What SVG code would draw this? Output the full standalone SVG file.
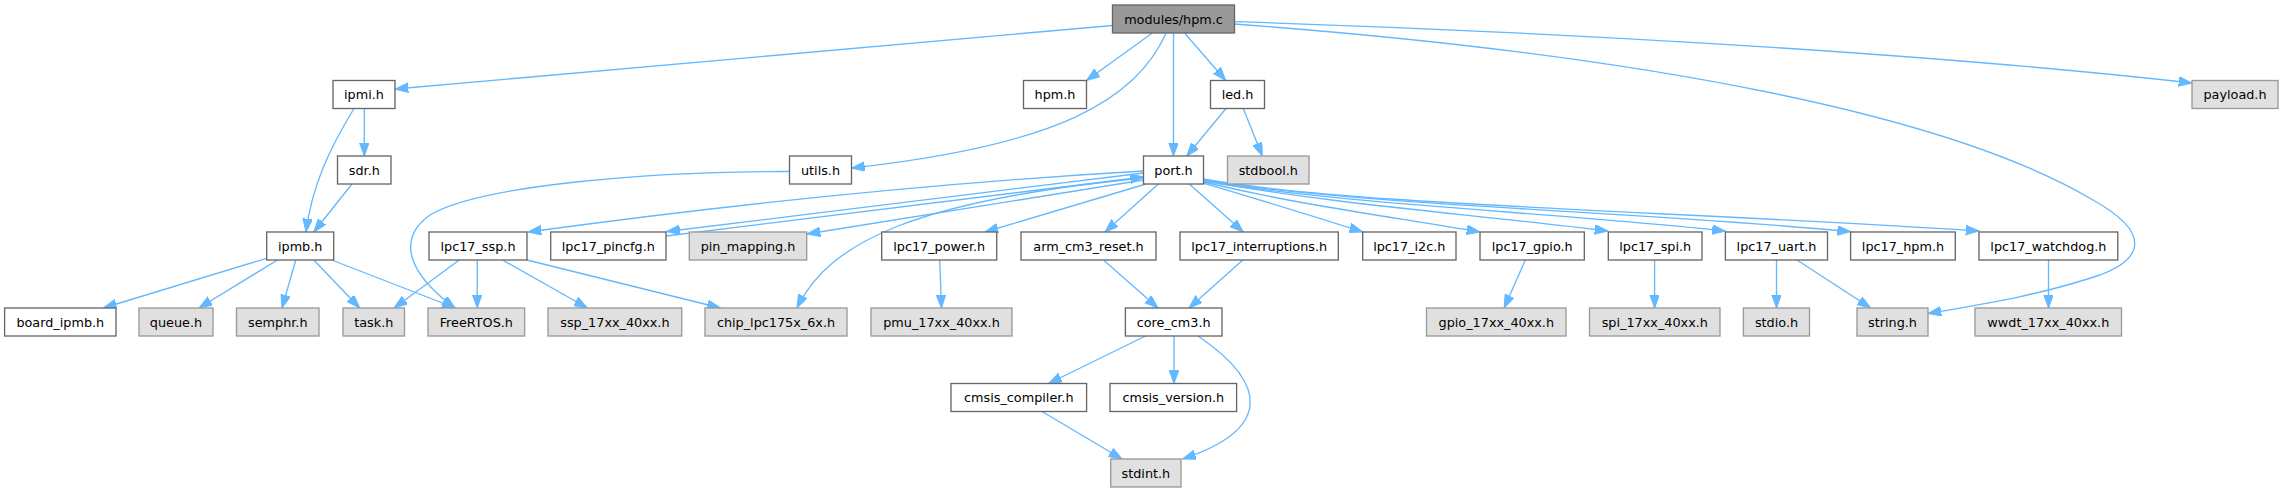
<svg xmlns="http://www.w3.org/2000/svg" width="2283" height="492" viewBox="0 0 2283 492">
<defs>
<marker id="arr" markerUnits="userSpaceOnUse" markerWidth="15" markerHeight="11" refX="13.3" refY="4.8" orient="auto">
<path d="M0,0 L13.3,4.8 L0,9.6 z" fill="#63b8ff" stroke="#63b8ff" stroke-width="1"/>
</marker>
<style>
.n rect{fill:#ffffff;stroke:#666666;stroke-width:1.33}
.g rect{fill:#e0e0e0;stroke:#999999;stroke-width:1.33}
.r rect{fill:#999999;stroke:#666666;stroke-width:1.33}
text{font-family:"DejaVu Sans",sans-serif;font-size:12.8px;fill:#000000;text-anchor:middle}
#edges path{fill:none;stroke:#63b8ff;stroke-width:1.33;marker-end:url(#arr)}
</style>
</defs>
<rect width="2283" height="492" fill="#ffffff"/>
<g id="edges">
<path d="M1112.5,25.5 L395,89"/>
<path d="M1151.7,33.5 L1086.5,80.5"/>
<path d="M1166,33.5 C1135,100 1060,145 851.5,168"/>
<path d="M1173.5,33.5 L1173.5,156"/>
<path d="M1185,33.5 L1225.7,80.5"/>
<path d="M1234.5,21.7 C1500,30 1900,50 2192,83"/>
<path d="M1234.5,24 C1650,55 1950,115 2093,200 C2150,232 2145,258 2100,275 C2040,295 1990,303 1928,313.5"/>
<path d="M364.3,108.5 L364.3,156"/>
<path d="M354,108.5 C330,148 312,185 306,232"/>
<path d="M352,184 L313.8,232"/>
<path d="M266.7,258.3 L103.3,308"/>
<path d="M277.5,260 L199,308"/>
<path d="M295.8,260 L282,308"/>
<path d="M313.8,260 L359.7,308"/>
<path d="M333,260.5 L455.4,308"/>
<path d="M789.5,171.5 C650,171.5 480,185 430,215 C395,240 410,275 455,308"/>
<path d="M1226,108.5 L1186.7,156"/>
<path d="M1243.3,108.5 L1262.3,156"/>
<path d="M1143.5,171 Q850,188 528,232"/>
<path d="M1143.5,173 L666.7,231.5"/>
<path d="M666,236 L1143.5,177"/>
<path d="M1143.5,180 L807,234"/>
<path d="M1143.5,178 C920,200 830,240 797,308"/>
<path d="M1146,184 L985,232"/>
<path d="M1158.3,184 L1105,232"/>
<path d="M1189.3,184 L1243.3,232"/>
<path d="M1203.5,183 C1260,200 1310,215 1362.7,232"/>
<path d="M1203.5,182 C1300,205 1380,215 1480,232"/>
<path d="M1203.5,181 C1350,206 1450,212 1608,231"/>
<path d="M1203.5,181 C1350,205 1550,212 1725.4,231"/>
<path d="M1203.5,180 C1350,205 1650,212 1850.6,231.7"/>
<path d="M1203.5,179 C1350,205 1650,210 1979,231"/>
<path d="M459.2,260 L394.2,308"/>
<path d="M477.2,260 L477.2,308"/>
<path d="M502.5,260 L587.4,308"/>
<path d="M527,260 L720.5,308"/>
<path d="M939.7,260 L941.5,308"/>
<path d="M1103.5,260 L1158,308"/>
<path d="M1242.8,260 L1189,308"/>
<path d="M1145.5,336 L1048.6,383.5"/>
<path d="M1174,336 L1174,383.5"/>
<path d="M1198,336 C1270,385 1270,430 1182.5,459"/>
<path d="M1042,411.5 L1122,459"/>
<path d="M1525.3,260 L1504.2,308"/>
<path d="M1654.6,260 L1654.6,308"/>
<path d="M1776.5,260 L1776.5,308"/>
<path d="M1797,260 L1870.7,308"/>
<path d="M2048.5,260 L2048.5,308"/>
</g>
<g id="n-root" class="r"><rect x="1112.5" y="5" width="122" height="28"/><text x="1173.5" y="23.5">modules/hpm.c</text></g>
<g id="n-ipmi" class="n"><rect x="333" y="80.5" width="62" height="28"/><text x="364" y="99">ipmi.h</text></g>
<g id="n-hpm" class="n"><rect x="1023.5" y="80.5" width="63" height="28"/><text x="1055" y="99">hpm.h</text></g>
<g id="n-led" class="n"><rect x="1210.5" y="80.5" width="54" height="28"/><text x="1237.5" y="99">led.h</text></g>
<g id="n-payload" class="g"><rect x="2192" y="80.5" width="86" height="28"/><text x="2235" y="99">payload.h</text></g>
<g id="n-sdr" class="n"><rect x="337.5" y="156" width="53.5" height="28"/><text x="364.3" y="174.5">sdr.h</text></g>
<g id="n-utils" class="n"><rect x="789.5" y="156" width="62" height="28"/><text x="820.5" y="174.5">utils.h</text></g>
<g id="n-port" class="n"><rect x="1143.5" y="156" width="60" height="28"/><text x="1173.5" y="174.5">port.h</text></g>
<g id="n-stdbool" class="g"><rect x="1227.5" y="156" width="81.5" height="28"/><text x="1268.3" y="174.5">stdbool.h</text></g>
<g id="n-ipmb" class="n"><rect x="266.7" y="232" width="67" height="28"/><text x="300.2" y="250.5">ipmb.h</text></g>
<g id="n-ssp" class="n"><rect x="429" y="232" width="98" height="28"/><text x="478" y="250.5">lpc17_ssp.h</text></g>
<g id="n-pincfg" class="n"><rect x="550.7" y="232" width="115.3" height="28"/><text x="608.3" y="250.5">lpc17_pincfg.h</text></g>
<g id="n-pinmap" class="g"><rect x="689.3" y="232" width="117.4" height="28"/><text x="748" y="250.5">pin_mapping.h</text></g>
<g id="n-power" class="n"><rect x="881.7" y="232" width="115" height="28"/><text x="939.2" y="250.5">lpc17_power.h</text></g>
<g id="n-armreset" class="n"><rect x="1021" y="232" width="135" height="28"/><text x="1088.5" y="250.5">arm_cm3_reset.h</text></g>
<g id="n-interr" class="n"><rect x="1180" y="232" width="158.3" height="28"/><text x="1259.2" y="250.5">lpc17_interruptions.h</text></g>
<g id="n-i2c" class="n"><rect x="1362.7" y="232" width="93.3" height="28"/><text x="1409.3" y="250.5">lpc17_i2c.h</text></g>
<g id="n-gpio" class="n"><rect x="1480" y="232" width="104.3" height="28"/><text x="1532.2" y="250.5">lpc17_gpio.h</text></g>
<g id="n-spi" class="n"><rect x="1608.3" y="232" width="93.7" height="28"/><text x="1655.2" y="250.5">lpc17_spi.h</text></g>
<g id="n-uart" class="n"><rect x="1725.4" y="232" width="102.1" height="28"/><text x="1776.5" y="250.5">lpc17_uart.h</text></g>
<g id="n-lhpm" class="n"><rect x="1850.6" y="232" width="104.7" height="28"/><text x="1903" y="250.5">lpc17_hpm.h</text></g>
<g id="n-wdog" class="n"><rect x="1979" y="232" width="138.8" height="28"/><text x="2048.4" y="250.5">lpc17_watchdog.h</text></g>
<g id="n-boardipmb" class="n"><rect x="4.6" y="308" width="111.4" height="28"/><text x="60.3" y="326.5">board_ipmb.h</text></g>
<g id="n-queue" class="g"><rect x="139" y="308" width="74" height="28"/><text x="176" y="326.5">queue.h</text></g>
<g id="n-semphr" class="g"><rect x="236.5" y="308" width="82.5" height="28"/><text x="277.8" y="326.5">semphr.h</text></g>
<g id="n-task" class="g"><rect x="343" y="308" width="61.5" height="28"/><text x="373.8" y="326.5">task.h</text></g>
<g id="n-freertos" class="g"><rect x="428" y="308" width="96.6" height="28"/><text x="476.3" y="326.5">FreeRTOS.h</text></g>
<g id="n-ssp17" class="g"><rect x="548" y="308" width="133.7" height="28"/><text x="614.9" y="326.5">ssp_17xx_40xx.h</text></g>
<g id="n-chip" class="g"><rect x="705" y="308" width="142" height="28"/><text x="776" y="326.5">chip_lpc175x_6x.h</text></g>
<g id="n-pmu" class="g"><rect x="871" y="308" width="141" height="28"/><text x="941.5" y="326.5">pmu_17xx_40xx.h</text></g>
<g id="n-core" class="n"><rect x="1125.4" y="308" width="96.6" height="28"/><text x="1173.7" y="326.5">core_cm3.h</text></g>
<g id="n-gpio17" class="g"><rect x="1426.5" y="308" width="139.5" height="28"/><text x="1496.3" y="326.5">gpio_17xx_40xx.h</text></g>
<g id="n-spi17" class="g"><rect x="1589.5" y="308" width="130.5" height="28"/><text x="1654.8" y="326.5">spi_17xx_40xx.h</text></g>
<g id="n-stdio" class="g"><rect x="1743.4" y="308" width="66.1" height="28"/><text x="1776.5" y="326.5">stdio.h</text></g>
<g id="n-string" class="g"><rect x="1857" y="308" width="71" height="28"/><text x="1892.5" y="326.5">string.h</text></g>
<g id="n-wwdt" class="g"><rect x="1975" y="308" width="146.5" height="28"/><text x="2048.3" y="326.5">wwdt_17xx_40xx.h</text></g>
<g id="n-cmsiscomp" class="n"><rect x="951" y="383.5" width="135.6" height="28"/><text x="1018.8" y="402">cmsis_compiler.h</text></g>
<g id="n-cmsisver" class="n"><rect x="1110" y="383.5" width="126.6" height="28"/><text x="1173.3" y="402">cmsis_version.h</text></g>
<g id="n-stdint" class="g"><rect x="1110.7" y="459" width="70.3" height="28"/><text x="1145.9" y="477.5">stdint.h</text></g>
</svg>
